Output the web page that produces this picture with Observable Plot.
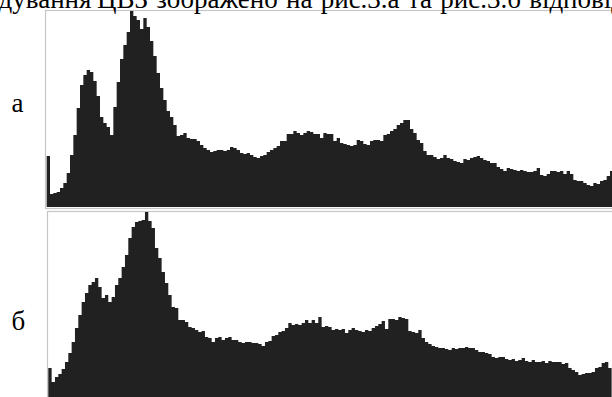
<!DOCTYPE html>
<html>
<head>
<meta charset="utf-8">
<script src="https://cdn.jsdelivr.net/npm/d3@7"></script>
<script src="https://cdn.jsdelivr.net/npm/@observablehq/plot@0.6"></script>
<style>
  html, body { margin: 0; padding: 0; background: #fff; }
  #page { position: relative; width: 612px; height: 397px; overflow: hidden; background: #fff; }
  #page > div, #page > svg { position: absolute; left: 0; }
  #page svg { max-width: none !important; }
</style>
</head>
<body>
<div id="page">
  <div id="top" style="top:0"></div>
  <div id="bot" style="top:205px"></div>
</div>
<script>
// Histogram heights (panel "а", then panel "б")
const histA = [
  51,13,14,15,19,24,34,52,72,99,
  122,132,137,135,126,111,90,84,80,72,
  100,125,148,162,175,196,191,187,178,189,
  180,166,151,134,119,107,96,90,82,71,
  72,74,69,68,68,66,62,59,57,55,
  56,57,57,56,57,60,59,57,54,53,
  54,52,50,49,51,52,55,57,59,61,
  66,66,73,73,76,74,72,74,76,75,
  73,73,69,74,73,73,
  66,69,64,63,62,61,62,67,66,63,
  62,66,67,67,66,72,73,76,78,82,
  84,87,87,78,74,67,64,56,52,52,
  50,48,49,52,49,48,46,45,44,48,
  47,49,50,51,49,47,46,44,44,40,
  38,36,39,38,37,36,37,36,35,35,
  36,39,32,31,33,36,36,35,36,33,
  36,33,27,26,26,24,22,21,24,23,
  26,27,31,36,38
];
const histB = [
  40,
  26,31,34,39,46,55,66,80,93,106,
  115,123,126,130,121,110,113,106,111,123,
  130,141,153,170,181,186,187,188,196,187,
  180,160,150,136,125,113,101,100,88,88,
  86,81,80,78,76,77,71,70,66,70,
  71,68,70,71,68,68,66,65,66,66,
  65,65,64,62,66,67,72,73,76,77,
  80,85,83,84,83,85,88,85,88,85,
  91,81,82,81,78,
  79,78,79,75,78,80,78,77,76,78,
  77,80,82,84,87,79,89,89,88,91,
  90,89,77,76,75,78,70,66,64,62,
  61,60,60,59,58,60,59,60,60,61,
  60,60,58,56,56,55,54,51,50,51,
  51,49,48,49,47,48,50,47,46,48,
  46,46,47,45,47,46,46,46,44,45,
  40,38,36,33,34,35,35,36,40,41,
  45,46,40,35
];
const panelLabels = ["а", "б"];
const captionBefore = "Результати декодування";
const captionAfter = "ЦВЗ зображено на рис.3.а та рис.3.б відповідно.";

const yMax = 197;
const binW = 10 / 3;
const fillColor = "#212121";
const frameColor = "#c6c6c6";

function histPlot(values, {x0, marginLeft, marginTop, height, base}) {
  const data = values.map((v, i) => ({i, v}));
  return Plot.plot({
    width: 620,
    height,
    marginLeft,
    marginTop,
    marginRight: 0,
    marginBottom: height - base - 1,
    style: {maxWidth: "none"},
    x: {domain: [0, values.length], range: [x0, x0 + values.length * binW], axis: null},
    y: {domain: [0, yMax], range: [base, marginTop], axis: null},
    marks: [
      Plot.frame({stroke: frameColor, strokeWidth: 1.2}),
      Plot.areaY(data, {x: "i", y: "v", curve: "step-after", fill: fillColor})
    ]
  });
}

document.getElementById("top").append(
  histPlot(histA, {x0: 46.67, marginLeft: 45, marginTop: 10, height: 212, base: 207})
);
document.getElementById("bot").append(
  histPlot(histB, {x0: 48.3, marginLeft: 47, marginTop: 6, height: 215, base: 203})
);

// text overlay
const svg = d3.select("#page").append("svg")
  .attr("width", 612).attr("height", 397)
  .style("top", "0px").style("pointer-events", "none");
const font = "'Liberation Serif', 'Times New Roman', serif";
svg.append("text").attr("x", 91.5).attr("y", 7.5).attr("text-anchor", "end")
  .attr("font-family", font).attr("font-size", 27).attr("fill", "#000").text(captionBefore);
svg.append("text").attr("x", 97).attr("y", 7.5)
  .attr("font-family", font).attr("font-size", 27).attr("word-spacing", 1.5)
  .attr("fill", "#000").text(captionAfter);
svg.append("text").attr("x", 11.5).attr("y", 112)
  .attr("font-family", font).attr("font-size", 27).attr("fill", "#000").text(panelLabels[0]);
svg.append("text").attr("x", 11.5).attr("y", 330)
  .attr("font-family", font).attr("font-size", 27).attr("fill", "#000").text(panelLabels[1]);
</script>
</body>
</html>
